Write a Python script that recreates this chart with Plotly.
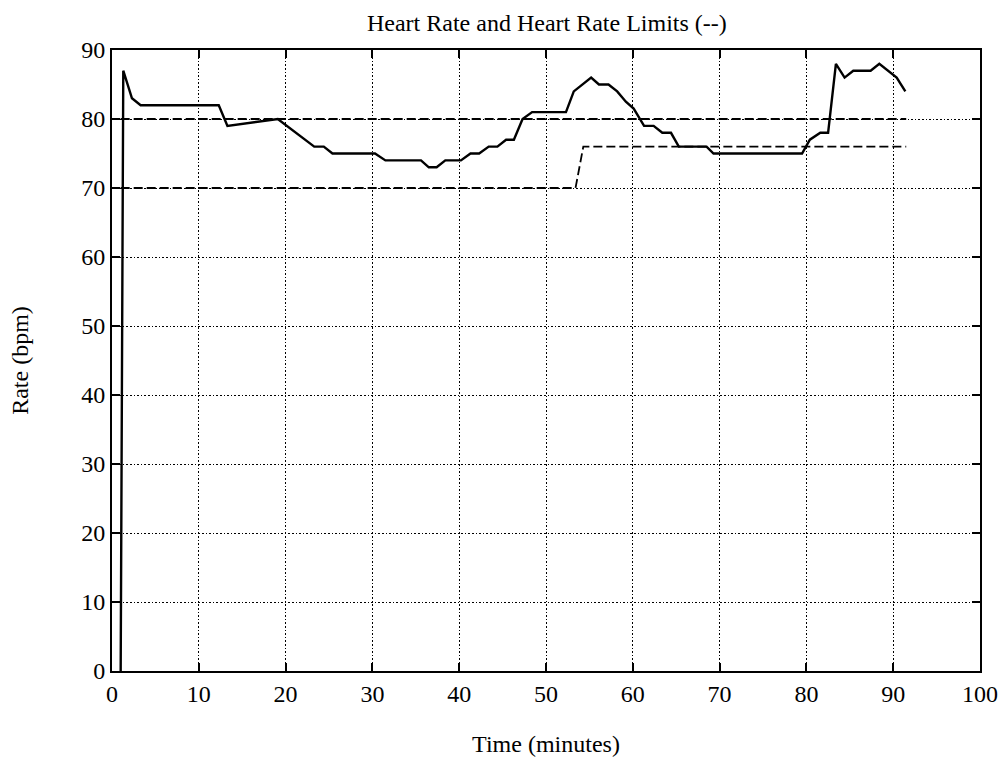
import plotly.graph_objects as go

# Heart rate samples (minutes, bpm)
hr_time = [1.0, 1.3, 2.3, 3.3, 12.3, 13.3, 19.1, 23.3, 24.4, 25.4, 30.3, 31.5,
           35.6, 36.5, 37.4, 38.4, 40.2, 41.3, 42.3, 43.4, 44.4, 45.4, 46.3,
           47.3, 48.4, 52.3, 53.2, 54.2, 55.2, 56.1, 57.2, 58.2, 59.2, 60.1,
           61.3, 62.4, 63.4, 64.4, 65.3, 68.5, 69.3, 79.5, 80.4, 81.6, 82.5,
           83.4, 84.4, 85.4, 87.4, 88.4, 89.4, 90.4, 91.4]
hr_bpm = [0, 87, 83, 82, 82, 79, 80, 76, 76, 75, 75, 74,
          74, 73, 73, 74, 74, 75, 75, 76, 76, 77, 77,
          80, 81, 81, 84, 85, 86, 85, 85, 84, 82.5, 81.5,
          79, 79, 78, 78, 76, 76, 75, 75, 77, 78, 78,
          88, 86, 87, 87, 88, 87, 86, 84]

# Heart rate limits
limit_time = [1.0, 53.4, 54.3, 91.5]
limit_upper = [80, 80, 80, 80]
limit_lower = [70, 70, 76, 76]

x_ticks = [0, 10, 20, 30, 40, 50, 60, 70, 80, 90, 100]
y_ticks = [0, 10, 20, 30, 40, 50, 60, 70, 80, 90]

FONT = "Liberation Serif"

fig = go.Figure()
fig.add_trace(go.Scatter(x=limit_time, y=limit_upper, mode="lines",
                         line=dict(color="black", width=1.8, dash="9px,4px")))
fig.add_trace(go.Scatter(x=limit_time, y=limit_lower, mode="lines",
                         line=dict(color="black", width=1.8, dash="9px,4px")))
fig.add_trace(go.Scatter(x=hr_time, y=hr_bpm, mode="lines",
                         line=dict(color="black", width=2.4)))

axis_common = dict(
    showline=True, linecolor="black", linewidth=1.8, mirror="ticks",
    ticks="inside", ticklen=8, tickwidth=1.5, tickcolor="black",
    showgrid=True, gridcolor="black", gridwidth=1.3, griddash="1.6px,2px",
    zeroline=False, automargin=False,
    tickfont=dict(family=FONT, size=24, color="black"),
)

fig.update_layout(
    width=1007, height=757,
    margin=dict(l=112, r=27, t=50, b=86),
    paper_bgcolor="white", plot_bgcolor="white",
    showlegend=False,
    title=dict(text="Heart Rate and Heart Rate Limits (--)",
               x=0.5431, xanchor="center", y=0.970, yanchor="middle",
               font=dict(family=FONT, size=24, color="black")),
    xaxis=dict(range=[0, 100], tickvals=x_ticks,
               title=dict(text="Time (minutes)", standoff=29,
                          font=dict(family=FONT, size=24, color="black")),
               **axis_common),
    yaxis=dict(range=[0, 90], tickvals=y_ticks,
               title=dict(text="Rate (bpm)", standoff=46,
                          font=dict(family=FONT, size=24, color="black")),
               **axis_common),
)

fig.write_html("out.html")
